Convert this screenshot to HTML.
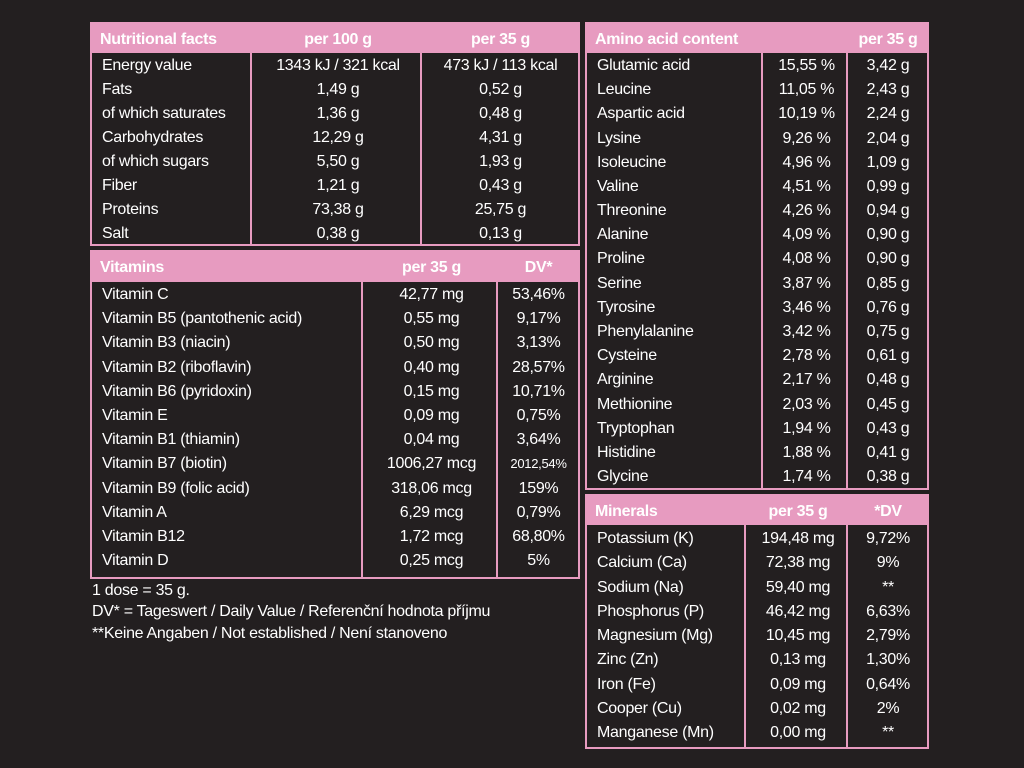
<!DOCTYPE html>
<html><head><meta charset="utf-8">
<style>
body{margin:0;width:1024px;height:768px;background:#231f20;overflow:hidden;font-family:"Liberation Sans",sans-serif;color:#fff;position:relative}
.t{position:absolute;border:2px solid #e79bc0;box-sizing:border-box;background:#231f20}
.h{position:absolute;left:0;right:0;top:0;background:#e79bc0;font-weight:bold;font-size:16px;color:#fff}
.v{position:absolute;width:2px;background:#e79bc0}
.c{position:absolute;font-size:16px;white-space:nowrap;letter-spacing:-0.3px;line-height:20px}
.f{position:absolute;left:92px;font-size:16px;letter-spacing:-0.3px;white-space:nowrap}
</style></head><body>
<div class="f" style="top:582px">1 dose = 35 g.</div>
<div class="f" style="top:603px">DV* = Tageswert / Daily Value / Referenční hodnota příjmu</div>
<div class="f" style="top:625px">**Keine Angaben / Not established / Není stanoveno</div>
<script>
const nutriRows=[["Energy value","1343 kJ / 321 kcal","473 kJ / 113 kcal"],["Fats","1,49 g","0,52 g"],["of which saturates","1,36 g","0,48 g"],["Carbohydrates","12,29 g","4,31 g"],["of which sugars","5,50 g","1,93 g"],["Fiber","1,21 g","0,43 g"],["Proteins","73,38 g","25,75 g"],["Salt","0,38 g","0,13 g"]];
const vitRows=[["Vitamin C","42,77 mg","53,46%"],["Vitamin B5 (pantothenic acid)","0,55 mg","9,17%"],["Vitamin B3 (niacin)","0,50 mg","3,13%"],["Vitamin B2 (riboflavin)","0,40 mg","28,57%"],["Vitamin B6 (pyridoxin)","0,15 mg","10,71%"],["Vitamin E","0,09 mg","0,75%"],["Vitamin B1 (thiamin)","0,04 mg","3,64%"],["Vitamin B7 (biotin)","1006,27 mcg","2012,54%"],["Vitamin B9 (folic acid)","318,06 mcg","159%"],["Vitamin A","6,29 mcg","0,79%"],["Vitamin B12","1,72 mcg","68,80%"],["Vitamin D","0,25 mcg","5%"]];
const aminoRows=[["Glutamic acid","15,55 %","3,42 g"],["Leucine","11,05 %","2,43 g"],["Aspartic acid","10,19 %","2,24 g"],["Lysine","9,26 %","2,04 g"],["Isoleucine","4,96 %","1,09 g"],["Valine","4,51 %","0,99 g"],["Threonine","4,26 %","0,94 g"],["Alanine","4,09 %","0,90 g"],["Proline","4,08 %","0,90 g"],["Serine","3,87 %","0,85 g"],["Tyrosine","3,46 %","0,76 g"],["Phenylalanine","3,42 %","0,75 g"],["Cysteine","2,78 %","0,61 g"],["Arginine","2,17 %","0,48 g"],["Methionine","2,03 %","0,45 g"],["Tryptophan","1,94 %","0,43 g"],["Histidine","1,88 %","0,41 g"],["Glycine","1,74 %","0,38 g"]];
const minRows=[["Potassium (K)","194,48 mg","9,72%"],["Calcium (Ca)","72,38 mg","9%"],["Sodium (Na)","59,40 mg","**"],["Phosphorus (P)","46,42 mg","6,63%"],["Magnesium (Mg)","10,45 mg","2,79%"],["Zinc (Zn)","0,13 mg","1,30%"],["Iron (Fe)","0,09 mg","0,64%"],["Cooper (Cu)","0,02 mg","2%"],["Manganese (Mn)","0,00 mg","**"]];
function table(name,x,y,w,h,hh,heads,divs,rows,firstRowY,step){
  const t=document.createElement('div');t.className='t';
  
  
  t.style.cssText=`left:${x}px;top:${y}px;width:${w}px;height:${h}px`;
  document.body.appendChild(t);
  const hd=document.createElement('div');hd.className='h';
  
  
  hd.style.height=hh+'px';t.appendChild(hd);
  const bounds=[0,...divs.map(d=>d-x),w-4];
  heads.forEach((s,i)=>{const e=document.createElement('div');e.className='c';
    
    
    e.textContent=s;e.style.top=(hh/2-9)+'px';
    if(i==0){e.style.left='8px';}else{e.style.left=bounds[i]+'px';e.style.width=(bounds[i+1]-bounds[i])+'px';e.style.textAlign='center';}
    hd.appendChild(e);});
  divs.forEach(d=>{const v=document.createElement('div');v.className='v';
    
    
    v.style.left=(d-x-3)+'px';v.style.top=hh+'px';v.style.bottom='0';t.appendChild(v);});
  rows.forEach((r,j)=>{r.forEach((s,i)=>{const e=document.createElement('div');e.className='c';
    
    
    e.textContent=s;e.style.top=(firstRowY+j*step-y-10)+'px';
    if(s.length>7&&i==2&&name=='vitamins-table'){e.style.fontSize='13px';}
    if(i==0){e.style.left='10px';}else{e.style.left=bounds[i]+'px';e.style.width=(bounds[i+1]-bounds[i])+'px';e.style.textAlign='center';}
    t.appendChild(e);});});
}
table('nutrition-table',90,22,490,224,29,['Nutritional facts','per 100 g','per 35 g'],[251,421],nutriRows,64,24);
table('vitamins-table',90,250,490,329,30,['Vitamins','per 35 g','DV*'],[362,497],vitRows,293,24.2);
table('amino-acid-table',585,22,344,468,29,['Amino acid content','','per 35 g'],[762,847],aminoRows,64,24.18);
table('minerals-table',585,494,344,255,29,['Minerals','per 35 g','*DV'],[745,847],minRows,537,24.25);
</script>
</body></html>
